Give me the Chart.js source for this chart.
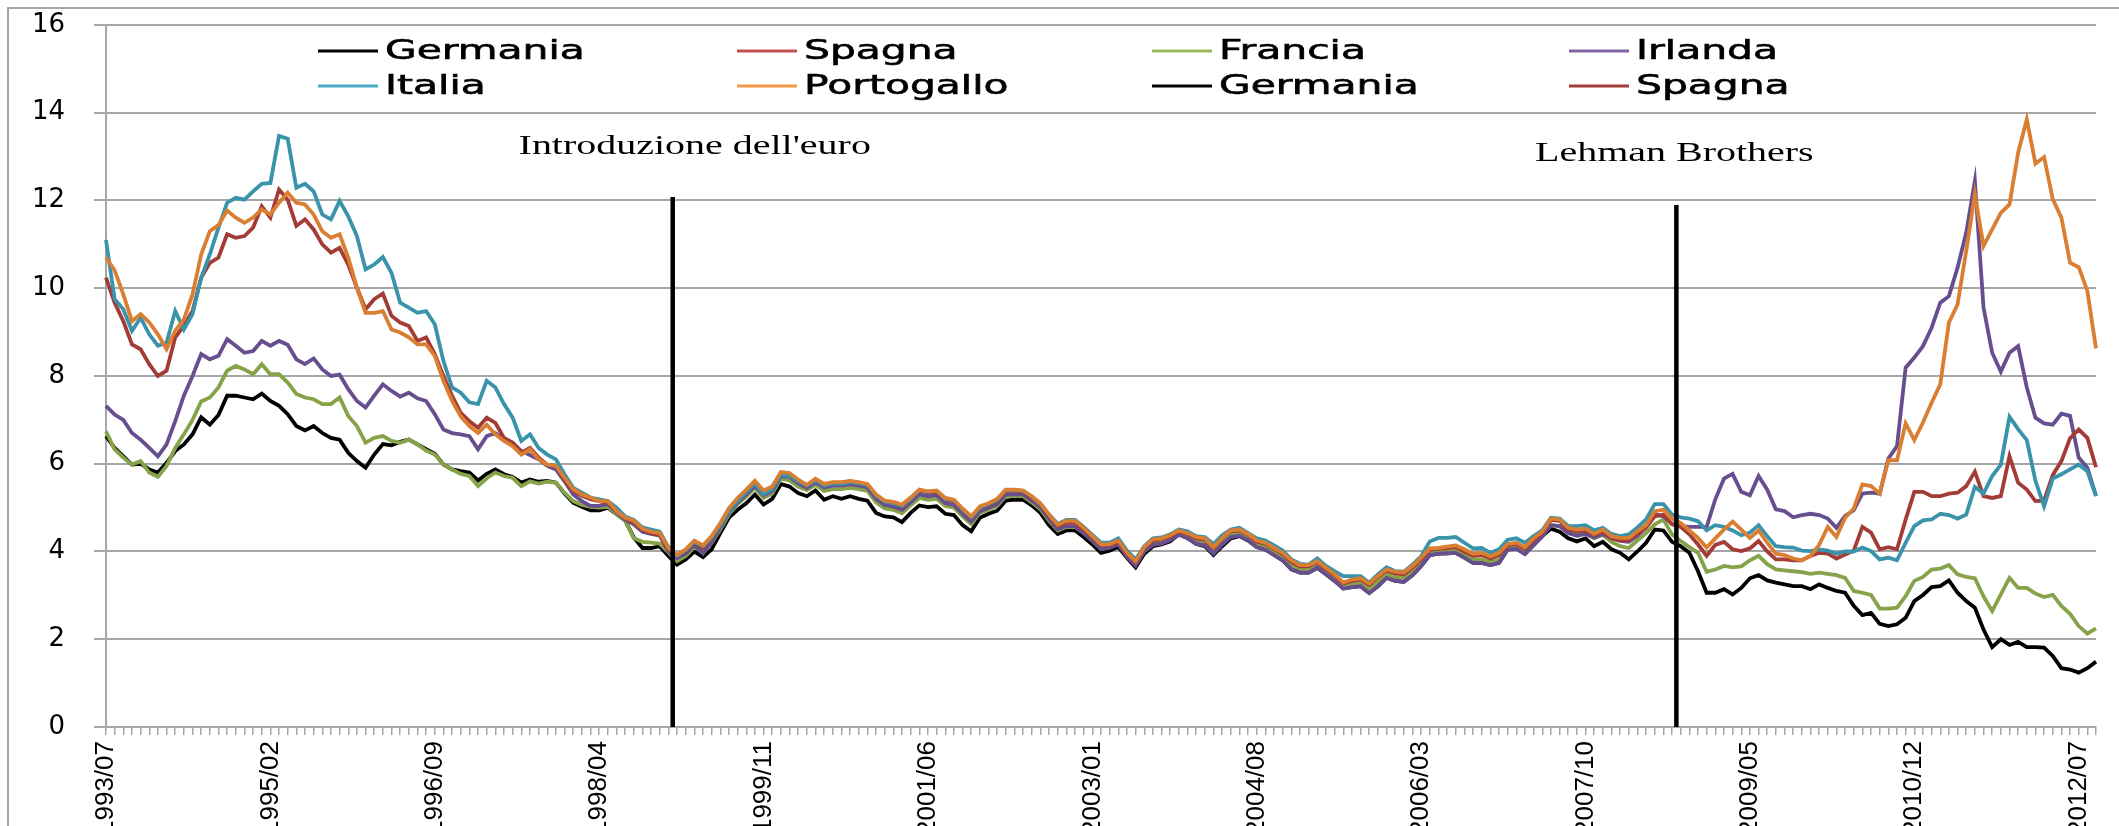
<!DOCTYPE html>
<html>
<head>
<meta charset="utf-8">
<script src="https://cdn.jsdelivr.net/npm/chart.js@4.4.1/dist/chart.umd.min.js"></script>
<style>
  body { margin: 0; background: #fff; overflow: hidden; }
  #frame { position: absolute; left: 7px; top: 7px; width: 2300px; height: 1000px; border: 2px solid #a6a6a6; }
  #wrap { position: absolute; left: 0; top: -12px; width: 2119px; height: 838px; }
</style>
</head>
<body>
<div id="frame"></div>
<div id="wrap"><canvas id="chart"></canvas></div>
<script>
// ---------------- DATA (monthly, 1993/07 - 2012/09) ----------------
const germania = [
  6.63, 6.36, 6.17, 5.98, 6.0, 5.87, 5.8, 6.02, 6.29, 6.44,
  6.67, 7.06, 6.89, 7.11, 7.55, 7.55, 7.51, 7.47, 7.6, 7.43,
  7.32, 7.13, 6.86, 6.76, 6.86, 6.7, 6.59, 6.55, 6.25, 6.06,
  5.91, 6.21, 6.45, 6.42, 6.5, 6.55, 6.44, 6.33, 6.23, 5.98,
  5.87, 5.83, 5.8, 5.62, 5.77, 5.87, 5.76, 5.7, 5.57, 5.64,
  5.59, 5.61, 5.57, 5.32, 5.11, 5.02, 4.94, 4.94, 5.0, 4.85,
  4.71, 4.32, 4.08, 4.08, 4.12, 3.9, 3.7, 3.82, 4.0, 3.87,
  4.05, 4.42, 4.77, 4.95, 5.1, 5.3, 5.07, 5.2, 5.54, 5.48,
  5.33, 5.26, 5.39, 5.18, 5.26, 5.2, 5.26, 5.2, 5.16, 4.88,
  4.8, 4.78, 4.67, 4.88, 5.05, 5.01, 5.03, 4.86, 4.83, 4.6,
  4.46, 4.77, 4.86, 4.93, 5.16, 5.18, 5.18, 5.05, 4.88, 4.6,
  4.4, 4.48, 4.48, 4.33, 4.16, 3.97, 4.02, 4.1, 3.86, 3.64,
  3.95, 4.12, 4.16, 4.23, 4.39, 4.31, 4.17, 4.12, 3.92, 4.12,
  4.3, 4.35, 4.25, 4.1, 4.05, 3.92, 3.8, 3.59, 3.52, 3.52,
  3.63, 3.48, 3.33, 3.16, 3.19, 3.21, 3.06, 3.21, 3.4, 3.33,
  3.31, 3.46, 3.67, 3.92, 3.95, 3.96, 3.97, 3.86, 3.74, 3.74,
  3.69, 3.74, 4.05, 4.08, 3.95, 4.16, 4.35, 4.52, 4.45, 4.3,
  4.23, 4.3, 4.12, 4.22, 4.05, 3.97, 3.82, 4.0, 4.2, 4.5,
  4.48, 4.22, 4.12, 3.97, 3.55, 3.06, 3.06, 3.14, 3.02, 3.17,
  3.39, 3.46, 3.34, 3.29, 3.25, 3.21, 3.21, 3.14, 3.25, 3.17,
  3.1, 3.06, 2.76, 2.55, 2.6, 2.35, 2.3, 2.34, 2.49, 2.87,
  3.01, 3.19, 3.21, 3.34, 3.06, 2.87, 2.72, 2.22, 1.82, 2.0,
  1.87, 1.94, 1.82, 1.82, 1.81, 1.62, 1.34, 1.31, 1.24, 1.34,
  1.49
];
const spagna = [
  10.24, 9.67, 9.25, 8.72, 8.61, 8.27, 8.0, 8.12, 8.88, 9.14,
  9.48, 10.24, 10.58, 10.7, 11.23, 11.15, 11.19, 11.38, 11.87, 11.61,
  12.25, 12.02, 11.42, 11.57, 11.34, 11.0, 10.81, 10.92, 10.54, 10.01,
  9.52, 9.75, 9.88, 9.37, 9.22, 9.14, 8.8, 8.88, 8.5, 8.0,
  7.55, 7.16, 6.97, 6.82, 7.05, 6.93, 6.59, 6.48, 6.25, 6.36,
  6.14, 5.98, 5.95, 5.64, 5.38, 5.27, 5.19, 5.15, 5.11, 4.92,
  4.76, 4.66, 4.5, 4.42, 4.38, 4.05, 3.9, 4.0, 4.2, 4.08,
  4.3, 4.6, 4.95, 5.18, 5.38, 5.58, 5.35, 5.45, 5.78, 5.76,
  5.62, 5.5, 5.64, 5.52, 5.56, 5.56, 5.6, 5.56, 5.52, 5.28,
  5.14, 5.1, 5.03, 5.2, 5.38, 5.35, 5.36, 5.18, 5.15, 4.95,
  4.76, 4.98, 5.06, 5.16, 5.38, 5.38, 5.36, 5.22, 5.06, 4.8,
  4.58, 4.66, 4.66, 4.5, 4.32, 4.14, 4.15, 4.22, 3.95, 3.76,
  4.08, 4.25, 4.28, 4.35, 4.46, 4.4, 4.3, 4.27, 4.08, 4.3,
  4.46, 4.48, 4.38, 4.22, 4.18, 4.06, 3.94, 3.76, 3.66, 3.66,
  3.76, 3.6, 3.45, 3.27, 3.33, 3.36, 3.24, 3.42, 3.56, 3.5,
  3.48, 3.63, 3.82, 4.04, 4.06, 4.08, 4.1, 4.0, 3.9, 3.92,
  3.84, 3.92, 4.14, 4.17, 4.06, 4.26, 4.42, 4.72, 4.7, 4.5,
  4.46, 4.48, 4.38, 4.45, 4.3, 4.26, 4.25, 4.4, 4.55, 4.8,
  4.84, 4.62, 4.56, 4.39, 4.16, 3.9, 4.15, 4.22, 4.05, 4.01,
  4.07, 4.24, 4.0, 3.82, 3.82, 3.8, 3.8, 3.9, 3.97, 3.95,
  3.84, 3.93, 4.02, 4.56, 4.43, 4.05, 4.1, 4.05, 4.73, 5.36,
  5.36, 5.26, 5.26, 5.32, 5.34, 5.49, 5.82, 5.26, 5.22, 5.26,
  6.17, 5.57, 5.41, 5.15, 5.16, 5.74, 6.06, 6.58, 6.78, 6.59,
  5.92
];
const francia = [
  6.74, 6.33, 6.14, 5.98, 6.06, 5.8, 5.7, 5.95, 6.36, 6.67,
  7.0, 7.42, 7.51, 7.74, 8.12, 8.23, 8.15, 8.04, 8.27, 8.04,
  8.04, 7.85, 7.59, 7.51, 7.47, 7.36, 7.36, 7.51, 7.09, 6.86,
  6.48, 6.59, 6.63, 6.52, 6.48, 6.55, 6.44, 6.3, 6.21, 5.98,
  5.87, 5.77, 5.72, 5.49, 5.67, 5.8, 5.72, 5.68, 5.49, 5.6,
  5.55, 5.59, 5.57, 5.34, 5.15, 5.06, 5.02, 5.0, 5.02, 4.85,
  4.71, 4.3, 4.22, 4.2, 4.18, 3.98, 3.78, 3.9, 4.1, 4.02,
  4.2, 4.5, 4.85, 5.08, 5.25, 5.45, 5.22, 5.32, 5.66, 5.62,
  5.48, 5.4, 5.52, 5.38, 5.42, 5.42, 5.45, 5.42, 5.38, 5.12,
  4.98, 4.95, 4.87, 5.05, 5.22, 5.18, 5.2, 5.04, 5.0, 4.8,
  4.62, 4.88, 4.96, 5.04, 5.26, 5.26, 5.26, 5.12, 4.96, 4.7,
  4.48, 4.56, 4.56, 4.42, 4.24, 4.06, 4.1, 4.18, 3.92, 3.7,
  4.02, 4.2, 4.22, 4.3, 4.42, 4.36, 4.24, 4.2, 4.0, 4.24,
  4.4, 4.42, 4.32, 4.16, 4.1, 4.0, 3.88, 3.68, 3.58, 3.58,
  3.7, 3.54, 3.4, 3.22, 3.26, 3.28, 3.14, 3.32, 3.48, 3.42,
  3.4, 3.56, 3.76, 3.98, 4.01, 4.02, 4.04, 3.93, 3.82, 3.82,
  3.76, 3.82, 4.1, 4.12, 4.0, 4.2, 4.38, 4.6, 4.58, 4.42,
  4.38, 4.42, 4.3, 4.38, 4.22, 4.12, 4.08, 4.25, 4.42, 4.62,
  4.73, 4.39, 4.24, 4.1, 3.97, 3.54, 3.59, 3.67, 3.64, 3.66,
  3.8, 3.9, 3.71, 3.59, 3.57, 3.55, 3.53, 3.49, 3.52, 3.49,
  3.46, 3.4, 3.1, 3.06, 3.01, 2.7, 2.7, 2.72, 2.98, 3.33,
  3.42, 3.59, 3.61, 3.69, 3.48, 3.42, 3.39, 2.98, 2.64, 3.02,
  3.4, 3.17, 3.17, 3.04, 2.96, 3.01, 2.76, 2.58, 2.3, 2.13,
  2.25
];
const irlanda = [
  7.32, 7.12, 7.0, 6.7, 6.55, 6.36, 6.17, 6.44, 6.97, 7.55,
  8.0, 8.5, 8.38, 8.46, 8.84, 8.69, 8.53, 8.57, 8.8, 8.69,
  8.8, 8.71, 8.38, 8.27, 8.4, 8.15, 8.0, 8.03, 7.7, 7.43,
  7.28, 7.55, 7.81, 7.66, 7.53, 7.62, 7.49, 7.43, 7.13, 6.78,
  6.7, 6.67, 6.63, 6.33, 6.63, 6.7, 6.55, 6.48, 6.29, 6.2,
  6.1, 5.95, 5.87, 5.6, 5.3, 5.15, 5.04, 5.04, 5.08, 4.89,
  4.73, 4.62, 4.45, 4.4, 4.36, 4.0, 3.85, 3.95, 4.15, 3.95,
  4.22, 4.55, 4.9, 5.12, 5.3, 5.5, 5.28, 5.38, 5.72, 5.7,
  5.55, 5.45, 5.58, 5.46, 5.5, 5.5, 5.53, 5.5, 5.46, 5.2,
  5.06, 5.02, 4.95, 5.12, 5.3, 5.26, 5.28, 5.1, 5.06, 4.86,
  4.68, 4.92, 5.0, 5.08, 5.3, 5.3, 5.3, 5.16, 5.0, 4.74,
  4.5, 4.58, 4.58, 4.42, 4.24, 4.05, 4.08, 4.16, 3.88, 3.68,
  4.0, 4.15, 4.18, 4.26, 4.38, 4.3, 4.18, 4.14, 3.95, 4.16,
  4.33, 4.36, 4.26, 4.1, 4.04, 3.92, 3.8, 3.6, 3.52, 3.52,
  3.64, 3.48, 3.33, 3.15, 3.19, 3.21, 3.05, 3.2, 3.4, 3.33,
  3.31, 3.46, 3.67, 3.92, 3.95, 3.96, 3.97, 3.86, 3.74, 3.74,
  3.69, 3.74, 4.04, 4.06, 3.94, 4.14, 4.34, 4.6, 4.58, 4.42,
  4.36, 4.4, 4.32, 4.4, 4.3, 4.24, 4.22, 4.36, 4.55, 4.85,
  4.8, 4.63, 4.58, 4.56, 4.56, 4.56, 5.19, 5.66, 5.77, 5.36,
  5.28, 5.72, 5.41, 4.96, 4.92, 4.78, 4.83, 4.86, 4.83, 4.75,
  4.54, 4.81, 4.94, 5.32, 5.34, 5.32, 6.12, 6.4, 8.19, 8.42,
  8.68, 9.1, 9.67, 9.82, 10.47, 11.27, 12.44, 9.56, 8.53, 8.1,
  8.53, 8.68, 7.74, 7.05, 6.92, 6.89, 7.14, 7.09, 6.14, 5.91,
  5.27
];
const italia = [
  11.1, 9.75, 9.52, 9.03, 9.33, 8.95, 8.69, 8.76, 9.48, 9.06,
  9.41, 10.24, 10.77, 11.38, 11.95, 12.06, 12.02, 12.21, 12.38, 12.4,
  13.47, 13.41, 12.29, 12.38, 12.21, 11.68, 11.57, 11.99, 11.64, 11.19,
  10.43, 10.54, 10.71, 10.35, 9.67, 9.56, 9.44, 9.48, 9.18, 8.34,
  7.74, 7.62, 7.4, 7.36, 7.89, 7.74, 7.36, 7.05, 6.52, 6.67,
  6.36, 6.21, 6.1, 5.76, 5.45, 5.34, 5.23, 5.19, 5.15, 5.0,
  4.8, 4.72, 4.55, 4.5, 4.45, 4.1, 3.9, 4.03, 4.22, 4.12,
  4.32, 4.6, 4.93, 5.15, 5.35, 5.55, 5.3, 5.42, 5.75, 5.72,
  5.6, 5.5, 5.62, 5.5, 5.55, 5.54, 5.58, 5.55, 5.52, 5.28,
  5.14, 5.1, 5.04, 5.2, 5.4, 5.36, 5.38, 5.2, 5.17, 4.96,
  4.78, 5.0, 5.08, 5.18, 5.4, 5.4, 5.38, 5.25, 5.08, 4.84,
  4.63, 4.72, 4.72, 4.56, 4.38, 4.2, 4.2, 4.3, 4.02, 3.82,
  4.12, 4.3, 4.32, 4.39, 4.5, 4.46, 4.35, 4.33, 4.17, 4.37,
  4.5, 4.54, 4.42, 4.3, 4.25, 4.14, 4.02, 3.82, 3.72, 3.7,
  3.84, 3.67, 3.55, 3.44, 3.44, 3.44, 3.29, 3.48, 3.64, 3.55,
  3.54, 3.7, 3.89, 4.23, 4.31, 4.31, 4.33, 4.2, 4.07, 4.08,
  3.97, 4.05, 4.27, 4.3, 4.2, 4.35, 4.48, 4.77, 4.75, 4.58,
  4.58, 4.6, 4.48, 4.54, 4.4, 4.35, 4.39, 4.55, 4.73, 5.08,
  5.08, 4.84, 4.78, 4.75, 4.69, 4.48, 4.6, 4.56, 4.48, 4.37,
  4.43, 4.6, 4.35, 4.12, 4.1, 4.09, 4.02, 4.01, 4.05, 4.02,
  3.95, 4.0, 4.0, 4.09, 4.01, 3.82, 3.86, 3.8, 4.2, 4.58,
  4.71, 4.73, 4.86, 4.83, 4.75, 4.84, 5.47, 5.32, 5.72, 5.98,
  7.07, 6.79, 6.54, 5.61, 5.03, 5.66, 5.76, 5.87, 5.98, 5.83,
  5.26
];
const portogallo = [
  10.7, 10.41, 9.86, 9.25, 9.41, 9.22, 8.95, 8.61, 9.03, 9.29,
  9.86, 10.77, 11.3, 11.44, 11.77, 11.61, 11.49, 11.61, 11.8, 11.68,
  11.95, 12.18, 11.95, 11.91, 11.68, 11.3, 11.15, 11.23, 10.7, 10.01,
  9.44, 9.44, 9.48, 9.06, 8.99, 8.88, 8.72, 8.72, 8.46, 7.89,
  7.43, 7.08, 6.86, 6.7, 6.89, 6.67, 6.52, 6.4, 6.21, 6.33,
  6.1, 5.98, 5.95, 5.68, 5.42, 5.3, 5.23, 5.15, 5.15, 4.92,
  4.77, 4.7, 4.52, 4.45, 4.42, 4.08, 3.92, 4.05, 4.25, 4.14,
  4.35, 4.65, 4.99, 5.22, 5.41, 5.61, 5.39, 5.48, 5.81, 5.79,
  5.64, 5.52, 5.66, 5.54, 5.58, 5.58, 5.61, 5.58, 5.54, 5.3,
  5.16, 5.13, 5.07, 5.23, 5.41, 5.37, 5.39, 5.22, 5.18, 4.98,
  4.8, 5.03, 5.1, 5.2, 5.41, 5.41, 5.39, 5.26, 5.1, 4.84,
  4.61, 4.7, 4.7, 4.54, 4.35, 4.16, 4.17, 4.25, 3.97, 3.78,
  4.1, 4.28, 4.3, 4.37, 4.48, 4.42, 4.33, 4.3, 4.1, 4.31,
  4.48, 4.5, 4.4, 4.25, 4.2, 4.08, 3.97, 3.8, 3.69, 3.69,
  3.78, 3.63, 3.48, 3.29, 3.36, 3.39, 3.27, 3.44, 3.59, 3.54,
  3.52, 3.67, 3.86, 4.07, 4.08, 4.11, 4.14, 4.05, 3.95, 3.97,
  3.89, 3.97, 4.17, 4.2, 4.1, 4.3, 4.45, 4.75, 4.73, 4.54,
  4.5, 4.52, 4.4, 4.5, 4.35, 4.31, 4.31, 4.46, 4.6, 4.92,
  4.95, 4.75, 4.65, 4.48, 4.31, 4.09, 4.3, 4.5, 4.68, 4.5,
  4.31, 4.48, 4.2, 3.95, 3.92, 3.84, 3.8, 3.9, 4.15, 4.56,
  4.33, 4.77, 4.98, 5.53, 5.49, 5.32, 6.08, 6.08, 6.92, 6.54,
  6.94, 7.39, 7.81, 9.22, 9.63, 10.85, 12.14, 10.96, 11.34, 11.72,
  11.91, 13.09, 13.85, 12.84, 12.99, 12.03, 11.61, 10.58, 10.48, 9.94,
  8.63
];

// month labels on the category axis
const months = [];
for (let k = 0; k < germania.length; k++) {
  const m = 6 + k;
  months.push((1993 + Math.floor(m / 12)) + "/" + String((m % 12) + 1).padStart(2, "0"));
}

// labels actually printed under the axis
const tickLabels = ["1993/07", "1995/02", "1996/09", "1998/04", "1999/11", "2001/06",
  "2003/01", "2004/08", "2006/03", "2007/10", "2009/05", "2010/12", "2012/07"];

// vertical markers
const eventLabels = ["Introduzione dell'euro", "Lehman Brothers"];
const eventMonths = ["1999/01", "2008/09"];
const eventTops = [12.08, 11.9];

// legend as drawn in the original (two rows of four)
const legendNames = ["Germania", "Spagna", "Francia", "Irlanda", "Italia", "Portogallo", "Germania", "Spagna"];
const legendColors = ["#000000", "#c0504d", "#9bbb59", "#8064a2", "#4bacc6", "#f79646", "#000000", "#a33b37"];

// ---------------- OVERLAY: markers + legend ----------------
// canvas sits 12px above the page, so page y = canvas y - 12
const overlay = {
  id: "overlay",
  afterDatasetsDraw(chart) {
    const { ctx, scales: { x, y } } = chart;
    const shift = [22, -2];
    eventMonths.forEach((m, k) => {
      const px = x.getPixelForValue(months.indexOf(m) - 0.5);
      ctx.save();
      ctx.strokeStyle = "#000";
      ctx.lineWidth = 4.5;
      ctx.beginPath();
      ctx.moveTo(px, y.getPixelForValue(eventTops[k]));
      ctx.lineTo(px, y.getPixelForValue(0));
      ctx.stroke();
      ctx.font = '27px "Liberation Serif", "Times New Roman", serif';
      ctx.fillStyle = "#000";
      ctx.textAlign = "center";
      ctx.textBaseline = "alphabetic";
      ctx.translate(px + shift[k], y.getPixelForValue(13.05) + k * 7);
      ctx.scale(1.48, 1);
      ctx.fillText(eventLabels[k], 0, 0);
      ctx.restore();
    });
  },
  afterDraw(chart) {
    const ctx = chart.ctx;
    const cols = [318, 737, 1152, 1569];
    const rows = [63, 98];
    legendNames.forEach((name, i) => {
      const cx = cols[i % 4];
      const cy = rows[Math.floor(i / 4)];
      ctx.save();
      ctx.strokeStyle = legendColors[i];
      ctx.lineWidth = 3;
      ctx.beginPath();
      ctx.moveTo(cx, cy);
      ctx.lineTo(cx + 60, cy);
      ctx.stroke();
      ctx.font = '26px "DejaVu Sans", sans-serif';
      ctx.fillStyle = "#000";
      ctx.strokeStyle = "#000";
      ctx.lineWidth = 0.6;
      ctx.textAlign = "left";
      ctx.textBaseline = "middle";
      ctx.translate(cx + 67, cy + 1);
      ctx.scale(1.57, 1);
      ctx.fillText(name, 0, 0);
      ctx.strokeText(name, 0, 0);
      ctx.restore();
    });
  }
};

// ---------------- CHART ----------------
const series = [
  { label: "Germania", data: germania, color: "#000000", order: 6 },
  { label: "Spagna", data: spagna, color: "#a33b37", order: 3 },
  { label: "Francia", data: francia, color: "#86a34a", order: 5 },
  { label: "Irlanda", data: irlanda, color: "#674e8e", order: 4 },
  { label: "Italia", data: italia, color: "#3893ab", order: 2 },
  { label: "Portogallo", data: portogallo, color: "#da7e32", order: 1 }
];

new Chart(document.getElementById("chart"), {
  type: "line",
  data: {
    labels: months,
    datasets: series.map(s => ({
      label: s.label,
      data: s.data,
      borderColor: s.color,
      backgroundColor: s.color,
      borderWidth: 3.8,
      pointRadius: 0,
      tension: 0,
      order: s.order
    }))
  },
  options: {
    responsive: true,
    maintainAspectRatio: false,
    animation: false,
    layout: { padding: { left: 0, top: 0, right: 23, bottom: 0 } },
    plugins: { legend: { display: false }, tooltip: { enabled: false } },
    scales: {
      x: {
        offset: false,
        afterFit: (s) => { s.height = 99; },
        grid: { drawOnChartArea: false, tickLength: 8, color: "#a6a6a6", lineWidth: 1.5 },
        border: { color: "#a6a6a6", width: 2 },
        ticks: {
          autoSkip: false,
          minRotation: 90,
          maxRotation: 90,
          padding: 6,
          color: "#000",
          font: { family: "Liberation Sans", size: 26, lineHeight: 0.6 },
          callback: function (v) {
            const l = this.getLabelForValue(v);
            return tickLabels.includes(l) ? l : "";
          }
        }
      },
      y: {
        min: 0,
        max: 16,
        afterFit: (s) => { s.width = 106; },
        ticks: { stepSize: 2, padding: 29, color: "#000", font: { family: "DejaVu Sans", size: 26, lineHeight: 0.615 } },
        grid: { color: "#a6a6a6", lineWidth: 2, tickLength: 12 },
        border: { color: "#a6a6a6", width: 2 }
      }
    }
  },
  plugins: [overlay]
});
</script>
</body>
</html>
